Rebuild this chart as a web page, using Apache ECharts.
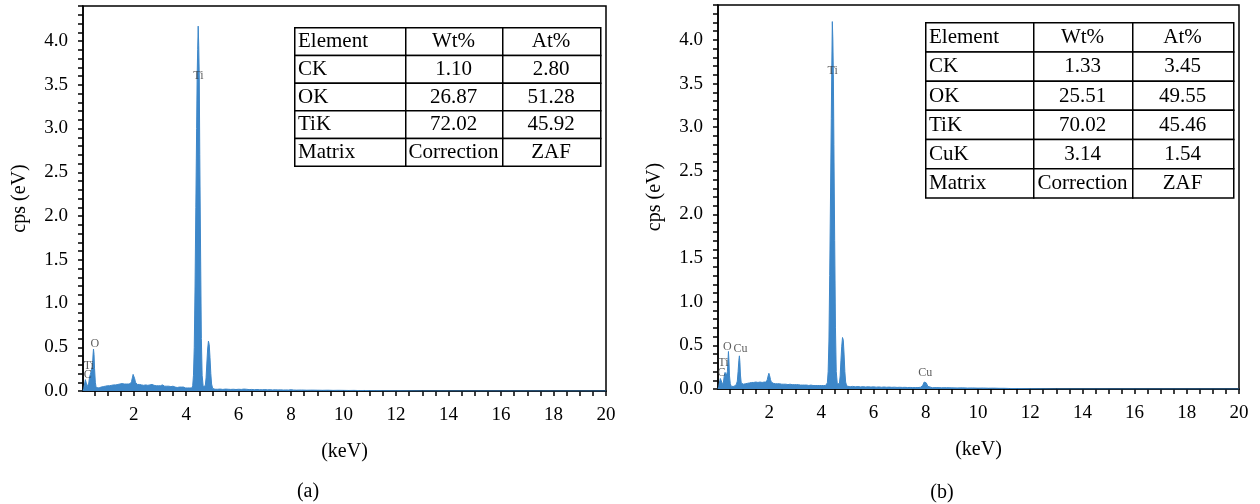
<!DOCTYPE html>
<html>
<head>
<meta charset="utf-8">
<script src="https://cdn.jsdelivr.net/npm/echarts@6/dist/echarts.min.js"></script>
<style>
  html, body { margin: 0; padding: 0; background: #fff; }
  #chart { width: 1260px; height: 504px; }
</style>
</head>
<body>
<div id="chart"></div>
<script>
// EDS spectra: [energy keV, cps]
const spectrumA = [
  [0.07,0],[0.10,0.03],[0.13,0.08],[0.16,0.13],[0.18,0.15],[0.20,0.12],[0.23,0.05],[0.26,0.04],[0.29,0.09],[0.32,0.16],
  [0.35,0.19],[0.38,0.17],[0.41,0.21],[0.43,0.28],[0.45,0.40],[0.47,0.48],[0.49,0.42],[0.51,0.26],[0.54,0.10],[0.57,0.04],
  [0.60,0.02],[0.64,0.025],[0.68,0.035],[0.72,0.03],[0.76,0.045],[0.80,0.04],[0.84,0.05],[0.88,0.045],[0.92,0.055],[0.96,0.05],
  [1.00,0.06],[1.04,0.055],[1.08,0.06],[1.12,0.05],[1.16,0.065],[1.20,0.06],[1.24,0.07],[1.28,0.06],[1.32,0.07],[1.36,0.065],
  [1.40,0.075],[1.44,0.07],[1.48,0.08],[1.52,0.07],[1.56,0.085],[1.60,0.075],[1.64,0.08],[1.68,0.09],[1.72,0.08],[1.76,0.085],
  [1.80,0.08],[1.84,0.09],[1.88,0.085],[1.92,0.11],[1.95,0.15],[1.98,0.19],[2.01,0.17],[2.04,0.14],[2.07,0.10],[2.10,0.08],
  [2.14,0.075],[2.18,0.07],[2.22,0.075],[2.26,0.065],[2.30,0.07],[2.34,0.06],[2.38,0.065],[2.42,0.06],[2.46,0.07],[2.50,0.06],
  [2.54,0.065],[2.58,0.06],[2.62,0.07],[2.66,0.065],[2.70,0.075],[2.74,0.06],[2.78,0.065],[2.82,0.055],[2.86,0.06],[2.90,0.055],
  [2.94,0.06],[2.98,0.05],[3.02,0.06],[3.06,0.055],[3.10,0.07],[3.14,0.06],[3.18,0.055],[3.22,0.05],[3.26,0.055],[3.30,0.05],
  [3.34,0.055],[3.38,0.045],[3.42,0.05],[3.46,0.045],[3.50,0.055],[3.54,0.05],[3.58,0.045],[3.62,0.05],[3.66,0.04],[3.70,0.05],
  [3.74,0.045],[3.78,0.04],[3.82,0.045],[3.86,0.04],[3.90,0.045],[3.94,0.04],[3.98,0.035],[4.02,0.04],[4.06,0.035],[4.10,0.04],
  [4.14,0.035],[4.18,0.04],[4.22,0.035],[4.25,0.06],[4.28,0.18],[4.31,0.5],[4.34,1.2],[4.37,2.1],[4.40,3.0],[4.42,3.6],
  [4.44,3.9],[4.46,4.17],[4.48,3.95],[4.50,3.6],[4.52,2.7],[4.55,1.6],[4.58,0.6],[4.61,0.18],[4.65,0.05],[4.69,0.03],
  [4.73,0.06],[4.76,0.15],[4.79,0.32],[4.82,0.48],[4.85,0.57],[4.88,0.53],[4.91,0.38],[4.94,0.2],[4.97,0.08],[5.01,0.03],
  [5.05,0.025],[5.10,0.02],[5.15,0.025],[5.20,0.02],[5.30,0.022],[5.40,0.018],[5.50,0.022],[5.60,0.02],[5.70,0.018],[5.80,0.02],
  [5.90,0.017],[6.00,0.02],[6.10,0.018],[6.20,0.022],[6.30,0.02],[6.40,0.016],[6.50,0.018],[6.60,0.015],[6.70,0.017],[6.80,0.015],
  [6.90,0.014],[7.00,0.016],[7.10,0.013],[7.20,0.015],[7.30,0.012],[7.40,0.014],[7.50,0.012],[7.60,0.013],[7.70,0.011],[7.80,0.012],
  [7.90,0.011],[8.00,0.015],[8.10,0.011],[8.20,0.01],[8.40,0.011],[8.60,0.009],[8.80,0.01],[9.00,0.009],[9.20,0.008],[9.40,0.009],
  [9.60,0.007],[9.80,0.008],[10.0,0.007],[10.2,0.006],[10.4,0.007],[10.6,0.005],[10.8,0.006],[11.0,0.004],[11.2,0.004],[11.5,0.003],
  [12.0,0.002],[13.0,0.001],[20,0]
];

const spectrumB = [
  [0.04,0],[0.07,0.03],[0.10,0.08],[0.13,0.12],[0.16,0.14],[0.19,0.10],[0.22,0.05],[0.25,0.08],[0.28,0.15],[0.31,0.19],
  [0.34,0.20],[0.37,0.16],[0.40,0.20],[0.42,0.30],[0.44,0.43],[0.46,0.32],[0.48,0.15],[0.51,0.06],[0.55,0.03],[0.60,0.035],
  [0.65,0.03],[0.70,0.04],[0.74,0.05],[0.78,0.09],[0.81,0.20],[0.84,0.33],[0.86,0.38],[0.88,0.30],[0.90,0.16],[0.93,0.07],
  [0.97,0.05],[1.01,0.055],[1.05,0.05],[1.09,0.06],[1.13,0.055],[1.17,0.065],[1.21,0.06],[1.25,0.07],[1.29,0.065],[1.33,0.075],
  [1.37,0.065],[1.41,0.075],[1.45,0.07],[1.49,0.08],[1.53,0.07],[1.57,0.075],[1.61,0.07],[1.65,0.08],[1.69,0.07],[1.73,0.075],
  [1.77,0.07],[1.81,0.08],[1.85,0.075],[1.89,0.08],[1.93,0.11],[1.96,0.15],[1.99,0.18],[2.02,0.15],[2.05,0.11],[2.08,0.08],
  [2.12,0.07],[2.16,0.065],[2.20,0.07],[2.24,0.06],[2.28,0.065],[2.32,0.06],[2.36,0.07],[2.40,0.06],[2.44,0.065],[2.48,0.055],
  [2.52,0.06],[2.56,0.055],[2.60,0.065],[2.64,0.055],[2.68,0.06],[2.72,0.05],[2.76,0.06],[2.80,0.055],[2.84,0.06],[2.88,0.05],
  [2.92,0.055],[2.96,0.05],[3.00,0.06],[3.04,0.05],[3.08,0.055],[3.12,0.05],[3.16,0.055],[3.20,0.045],[3.24,0.05],[3.28,0.045],
  [3.32,0.055],[3.36,0.045],[3.40,0.05],[3.44,0.045],[3.48,0.05],[3.52,0.04],[3.56,0.05],[3.60,0.045],[3.64,0.05],[3.68,0.04],
  [3.72,0.045],[3.76,0.04],[3.80,0.05],[3.84,0.04],[3.88,0.045],[3.92,0.04],[3.96,0.045],[4.00,0.04],[4.04,0.045],[4.08,0.04],
  [4.12,0.045],[4.16,0.04],[4.20,0.045],[4.23,0.07],[4.26,0.2],[4.29,0.55],[4.32,1.3],[4.35,2.2],[4.38,3.1],[4.40,3.7],
  [4.42,4.21],[4.44,4.0],[4.46,3.6],[4.48,2.8],[4.51,1.7],[4.54,0.7],[4.57,0.2],[4.61,0.06],[4.65,0.04],[4.69,0.06],
  [4.72,0.15],[4.75,0.33],[4.78,0.49],[4.81,0.59],[4.84,0.56],[4.87,0.40],[4.90,0.2],[4.93,0.08],[4.97,0.035],[5.03,0.03],
  [5.10,0.025],[5.20,0.03],[5.30,0.025],[5.40,0.028],[5.50,0.024],[5.60,0.027],[5.70,0.023],[5.80,0.026],[5.90,0.022],[6.00,0.025],
  [6.10,0.021],[6.20,0.024],[6.30,0.02],[6.40,0.023],[6.50,0.02],[6.60,0.022],[6.70,0.019],[6.80,0.021],[6.90,0.018],[7.00,0.02],
  [7.10,0.018],[7.20,0.019],[7.30,0.017],[7.40,0.018],[7.50,0.016],[7.60,0.017],[7.70,0.016],[7.80,0.02],[7.88,0.04],[7.94,0.08],
  [7.98,0.09],[8.02,0.07],[8.08,0.03],[8.15,0.018],[8.25,0.015],[8.40,0.016],[8.60,0.014],[8.80,0.015],[9.00,0.013],[9.20,0.012],
  [9.40,0.013],[9.60,0.011],[9.80,0.012],[10.0,0.01],[10.2,0.011],[10.4,0.009],[10.6,0.01],[10.8,0.008],[11.0,0.008],[11.2,0.006],
  [11.5,0.005],[12.0,0.003],[13.0,0.001],[20,0]
];

// element markers placed at [keV, cps]
const peakLabelsA = [['Ti', 4.47, 3.6], ['O', 0.52, 0.54], ['Ti', 0.29, 0.29], ['C', 0.25, 0.19]];
const peakLabelsB = [['Ti', 4.43, 3.65], ['O', 0.40, 0.48], ['Cu', 0.90, 0.46], ['Ti', 0.25, 0.30], ['C', 0.17, 0.19], ['Cu', 7.98, 0.18]];

// composition tables
const tableA = [
  ['Element', 'Wt%', 'At%'],
  ['CK', '1.10', '2.80'],
  ['OK', '26.87', '51.28'],
  ['TiK', '72.02', '45.92'],
  ['Matrix', 'Correction', 'ZAF']
];
const tableB = [
  ['Element', 'Wt%', 'At%'],
  ['CK', '1.33', '3.45'],
  ['OK', '25.51', '49.55'],
  ['TiK', '70.02', '45.46'],
  ['CuK', '3.14', '1.54'],
  ['Matrix', 'Correction', 'ZAF']
];

const xTickLabels = [2, 4, 6, 8, 10, 12, 14, 16, 18, 20];
const yTickLabels = [0, 0.5, 1.0, 1.5, 2.0, 2.5, 3.0, 3.5, 4.0];

const FONT = 'Liberation Serif';
const BLUE = '#3d87c9';

let xMinorTicks = [];
for (let v = 0.5; v <= 20; v += 0.5) xMinorTicks.push(+v.toFixed(1));
let yMinorTicks = [];
for (let v = 0; v <= 4.4001; v += 0.1) yMinorTicks.push(+v.toFixed(1));

function makeX(idx, min) {
  return {
    gridIndex: idx, type: 'value', min: min, max: 20,
    name: '(keV)', nameLocation: 'middle', nameGap: 51,
    nameTextStyle: { fontFamily: FONT, fontSize: 20, color: '#000' },
    axisLine: { lineStyle: { color: '#000', width: 1.5 } },
    axisTick: { show: true, length: 5, customValues: xMinorTicks, lineStyle: { color: '#000', width: 1.5 } },
    axisLabel: { customValues: xTickLabels, margin: 15, fontFamily: FONT, fontSize: 19, color: '#000' },
    splitLine: { show: false }
  };
}
function makeY(idx) {
  return {
    gridIndex: idx, type: 'value', min: 0, max: 4.4,
    name: 'cps (eV)', nameLocation: 'middle', nameGap: 53, nameRotate: 90,
    nameTextStyle: { fontFamily: FONT, fontSize: 20, color: '#000' },
    axisLine: { show: true, lineStyle: { color: '#000', width: 1.5 } },
    axisTick: { show: true, length: 5, customValues: yMinorTicks, lineStyle: { color: '#000', width: 1.5 } },
    axisLabel: {
      customValues: yTickLabels, margin: 15, fontFamily: FONT, fontSize: 19, color: '#000',
      formatter: v => v.toFixed(1)
    },
    splitLine: { show: false }
  };
}

function spectrumSeries(idx, data) {
  return {
    type: 'line', xAxisIndex: idx, yAxisIndex: idx, data: data,
    symbol: 'none', silent: true,
    lineStyle: { color: BLUE, width: 1 },
    areaStyle: { color: BLUE, opacity: 1 }
  };
}
function labelSeries(idx, labels) {
  return {
    type: 'scatter', xAxisIndex: idx, yAxisIndex: idx, symbolSize: 0, silent: true,
    data: labels.map(l => ({ name: l[0], value: [l[1], l[2]] })),
    label: { show: true, position: 'inside', formatter: '{b}', fontFamily: FONT, fontSize: 12, color: '#333' },
    z: 5
  };
}

// draw a bordered table with graphic elements
function buildTable(rows, left, top, colW, rowH) {
  let els = [];
  rows.forEach((row, r) => {
    let x = left;
    row.forEach((cell, c) => {
      els.push({
        type: 'rect', left: x, top: top + r * rowH, z: 10,
        shape: { width: colW[c], height: rowH },
        style: { fill: '#fff', stroke: '#000', lineWidth: 1.5 }
      });
      els.push({
        type: 'text', z: 11,
        x: c === 0 ? x + 4 : x + colW[c] / 2,
        y: top + r * rowH + rowH / 2 + 1,
        style: {
          text: cell, fontFamily: FONT, fontSize: 21, fill: '#000',
          align: c === 0 ? 'left' : 'center', verticalAlign: 'middle'
        }
      });
      x += colW[c];
    });
  });
  return els;
}

const chart = echarts.init(document.getElementById('chart'));

const option = {
  animation: false,
  grid: [
    { left: 83, top: 6, width: 523, height: 385, show: true, borderColor: '#000', borderWidth: 1.5 },
    { left: 718, top: 5, width: 521, height: 384, show: true, borderColor: '#000', borderWidth: 1.5 }
  ],
  xAxis: [makeX(0, 0.07), makeX(1, 0.04)],
  yAxis: [makeY(0), makeY(1)],
  series: [
    spectrumSeries(0, spectrumA),
    spectrumSeries(1, spectrumB),
    labelSeries(0, peakLabelsA),
    labelSeries(1, peakLabelsB)
  ],
  graphic: [
    ...buildTable(tableA, 294, 27, [111, 97, 98], 27.7),
    ...buildTable(tableB, 925, 22, [108, 99, 101], 29.2),
    { type: 'text', x: 308, y: 492, style: { text: '(a)', fontFamily: FONT, fontSize: 20, fill: '#000', align: 'center', verticalAlign: 'middle' } },
    { type: 'text', x: 942, y: 493, style: { text: '(b)', fontFamily: FONT, fontSize: 20, fill: '#000', align: 'center', verticalAlign: 'middle' } }
  ]
};

chart.setOption(option);
</script>
</body>
</html>
